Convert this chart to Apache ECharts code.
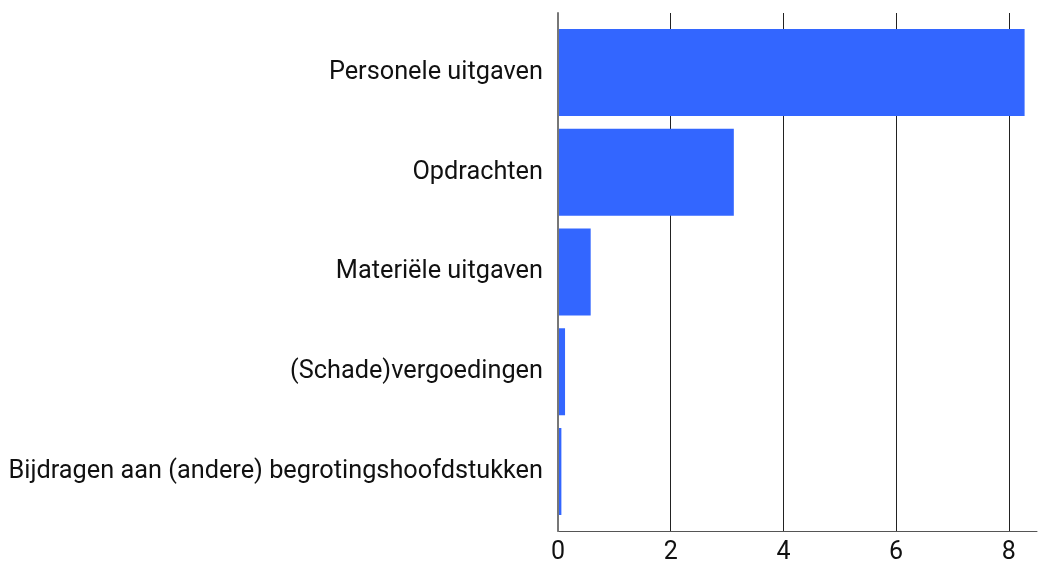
<!DOCTYPE html>
<html>
<head>
<meta charset="utf-8">
<style>
  html, body { margin: 0; padding: 0; background: #fff; }
  #chart { width: 1038px; height: 565px; }
</style>
<script src="https://cdn.jsdelivr.net/npm/echarts@6/dist/echarts.min.js"></script>
</head>
<body>
<div id="chart"></div>
<script>
// categories, top to bottom
var categories = [
  'Personele uitgaven',
  'Opdrachten',
  'Materiële uitgaven',
  '(Schade)vergoedingen',
  'Bijdragen aan (andere) begrotingshoofdstukken'
]
var values = [8.28, 3.12, 0.58, 0.125, 0.06]
var xTicks = [0, 2, 4, 6, 8]

var chart = echarts.init(document.getElementById('chart'))

chart.setOption({
  animation: false,
  textStyle: { fontFamily: 'Roboto' },
  grid: [
    // bars
    { left: 558, right: 1, top: 22.6, bottom: 43.6 },
    // frame with split lines and x labels
    { left: 558, right: 1, top: 13, bottom: 34 }
  ],
  xAxis: [
    {
      gridIndex: 0,
      type: 'value',
      min: 0,
      max: 8.5,
      show: false
    },
    {
      gridIndex: 1,
      type: 'value',
      min: 0,
      max: 8.5,
      interval: 2,
      axisLine: { show: true, lineStyle: { color: '#555', width: 1 } },
      axisTick: { show: false },
      splitLine: {
        show: true,
        showMaxLine: false,
        lineStyle: { color: '#222', width: 1 }
      },
      axisLabel: {
        showMaxLabel: false,
        fontSize: 25,
        color: '#111',
        margin: 9,
        formatter: function (v) {
          return xTicks.indexOf(v) >= 0 ? String(v) : ''
        }
      }
    }
  ],
  yAxis: [
    {
      gridIndex: 0,
      type: 'category',
      data: categories,
      inverse: true,
      axisLine: { show: false },
      axisTick: { show: false },
      splitLine: { show: false },
      axisLabel: {
        fontSize: 25.3,
        color: '#111',
        margin: 15
      }
    },
    {
      gridIndex: 1,
      type: 'value',
      min: 0,
      max: 1,
      z: 10,
      axisLine: { show: true, lineStyle: { color: '#777', width: 2 } },
      axisTick: { show: false },
      axisLabel: { show: false },
      splitLine: { show: false }
    }
  ],
  series: [{
    type: 'bar',
    xAxisIndex: 0,
    yAxisIndex: 0,
    data: values,
    barWidth: 87,
    itemStyle: { color: '#3366ff' },
    z: 5
  }]
})
</script>
</body>
</html>
